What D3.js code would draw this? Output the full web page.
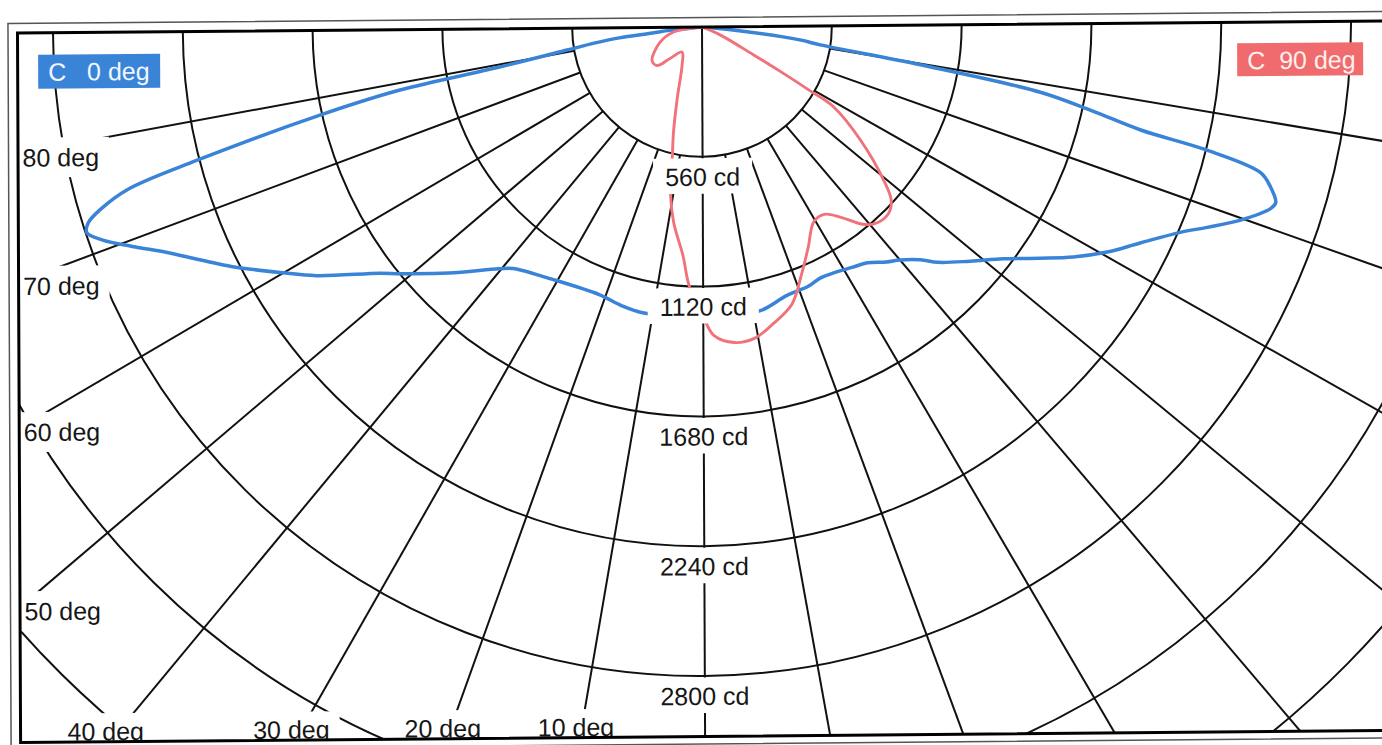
<!DOCTYPE html>
<html>
<head>
<meta charset="utf-8">
<script src="https://cdn.jsdelivr.net/npm/d3@7"></script>
<style>
	html, body { margin: 0; padding: 0; background: #fff; }
	svg { display: block; }
	text { font-family: "Liberation Sans", Arial, sans-serif; }
</style>
</head>
<body>
<div id="chart"></div>
<script>
const WIDTH = 1382;
const HEIGHT = 745;

// grid
const ringValues = [560, 1120, 1680, 2240, 2800, 3360, 3920];
const labelledRings = [560, 1120, 1680, 2240, 2800];
const gridAngles = [-80, -70, -60, -50, -40, -30, -20, -10, 0, 10, 20, 30, 40, 50, 60, 70, 80];
const sideAngleLabels = [80, 70, 60, 50];
const bottomAngleLabels = [40, 30, 20, 10];
const legendNames = ["C   0 deg", "C  90 deg"];

// C0 / C180 plane (negative gamma = C180 half), cd
const c0Gamma = [-90, -84.5, -83.5, -83, -82, -80.8, -79.3, -78.7, -77.5, -75.7, -74.7, -73.6, -72.8, -72,
	-70.9, -69.4, -67.6, -65.6, -63.4, -60.1, -57.6, -53, -51.2, -46.2, -40.4, -38.4, -31.3, -21.3, -16.3, -12,
	0, 5, 11.5, 17.3, 22, 25, 27.7, 31.8, 34.7, 37.8, 40, 42.8, 44.7, 48.5, 52, 55.2, 57.8, 60.5, 63.3, 66.3,
	67.9, 69.8, 71.8, 72.5, 73.8, 74.9, 75.8, 76.3, 77.4, 78.6, 79.7, 80.9, 82, 84, 90];
const c0Cd = [0, 150, 215, 360, 470, 590, 890, 1330, 1690, 2250, 2570, 2710, 2775, 2795,
	2740, 2630, 2500, 2385, 2270, 2095, 1975, 1745, 1680, 1520, 1360, 1320, 1265, 1235, 1250, 1258,
	1255, 1255, 1250, 1216, 1211, 1199, 1205, 1226, 1245, 1292, 1322, 1380, 1441, 1540, 1643, 1770, 1888, 2003, 2111, 2249,
	2348, 2472, 2578, 2592, 2551, 2493, 2248, 1946, 1720, 1488, 957, 516, 426, 134, 0];

// C90 / C270 plane (negative gamma = C270 half), cd
const c90Gamma = [-90, -80.2, -70.3, -56.6, -49.8, -45.9, -38.7, -27.8, -19.4, -15.4, -13.4, -10.8, -8.5, -5, -3.1,
	0, 2, 5.6, 9.3, 12.9, 17.6, 21.6, 25.4, 29.6, 32.8, 35.8, 38.6, 40.8, 44.5, 47.1, 49.4, 54, 58.3, 59, 60, 61.2, 66, 90];
const c90Cd = [0, 127, 193, 259, 255, 193, 138, 186, 326, 471, 560, 739, 852, 990, 1117,
	1250, 1333, 1369, 1363, 1322, 1261, 1153, 1058, 970, 967, 1019, 1095, 1131, 1141, 1110, 1030, 845, 666, 545, 389, 252, 85, 0];

const CX = 702, CY = 27;
const PLOT = {left: 17.5, right: 1420, top: 27, bottom: 736.5};
const RING_PX = 129.8;
const FONT_SIZE = 25;
const GRID_COLOR = "#111";
const BLUE = "#3a84d8";
const RED = "#f0727a";

const rScale = d3.scaleLinear().domain([0, 560]).range([0, RING_PX]);
// gamma 0 points down, positive gamma to the right
const aScale = d3.scaleLinear().domain([-180, 180]).range([2 * Math.PI, 0]);

const svg = d3.select("#chart").append("svg")
	.attr("width", WIDTH)
	.attr("height", HEIGHT);

svg.append("defs").append("clipPath")
	.attr("id", "plot-clip")
	.append("rect")
	.attr("x", PLOT.left)
	.attr("y", PLOT.top)
	.attr("width", PLOT.right - PLOT.left)
	.attr("height", PLOT.bottom - PLOT.top);

// the scan is slightly skewed
const chart = svg.append("g")
	.attr("transform", `translate(${CX},${CY}) skewY(-0.5) skewX(0.25) translate(${-CX},${-CY})`);

const plot = chart.append("g").attr("clip-path", "url(#plot-clip)");
const polar = plot.append("g").attr("transform", `translate(${CX},${CY})`);

// rings
polar.append("g")
	.attr("class", "rings")
	.selectAll("circle")
	.data(ringValues)
	.join("circle")
	.attr("r", d => rScale(d))
	.attr("fill", "none")
	.attr("stroke", GRID_COLOR)
	.attr("stroke-width", 2);

// spokes
const spoke = d3.lineRadial()
	.angle(d => aScale(d[0]))
	.radius(d => d[1]);

polar.append("g")
	.attr("class", "spokes")
	.selectAll("path")
	.data(gridAngles)
	.join("path")
	.attr("d", g => spoke([[g, g === 0 ? 0 : rScale(ringValues[0])], [g, 2000]]))
	.attr("fill", "none")
	.attr("stroke", GRID_COLOR)
	.attr("stroke-width", 2);

// curves
const curve = d3.lineRadial()
	.angle(d => aScale(d[0]))
	.radius(d => rScale(d[1]))
	.curve(d3.curveCatmullRom.alpha(0.5));

polar.append("path")
	.attr("class", "c0")
	.attr("d", curve(d3.zip(c0Gamma, c0Cd)))
	.attr("fill", "none")
	.attr("stroke", BLUE)
	.attr("stroke-width", 3.5)
	.attr("stroke-linejoin", "round");

polar.append("path")
	.attr("class", "c90")
	.attr("d", curve(d3.zip(c90Gamma, c90Cd)))
	.attr("fill", "none")
	.attr("stroke", RED)
	.attr("stroke-width", 2.9)
	.attr("stroke-linejoin", "round");

// label with a white box behind it
function boxedLabel(parent, x, y, anchor, txt, pad) {
	const g = parent.append("g");
	const rect = g.append("rect").attr("fill", "#fff");
	const t = g.append("text")
		.attr("x", x)
		.attr("y", y)
		.attr("text-anchor", anchor)
		.attr("font-size", FONT_SIZE)
		.attr("fill", "#161616")
		.text(txt);
	const b = t.node().getBBox();
	rect.attr("x", b.x - pad.left)
		.attr("y", y - pad.top)
		.attr("width", b.width + pad.left + pad.right)
		.attr("height", pad.top + pad.bottom);
	return g;
}

const labels = plot.append("g").attr("class", "labels");

labelledRings.forEach(v => {
	const ringY = CY + rScale(v);
	boxedLabel(labels, CX, ringY + 29, "middle", `${v} cd`, {left: 12, right: 12, top: 27.5, bottom: 8});
});

sideAngleLabels.forEach(a => {
	const hitY = CY + (CX - PLOT.left) / Math.tan(a * Math.PI / 180);
	boxedLabel(labels, 22, hitY + 13, "start", `${a} deg`, {left: 6, right: 10, top: 29, bottom: 11});
});

bottomAngleLabels.forEach(a => {
	const hitX = CX - (PLOT.bottom - CY) * Math.tan(a * Math.PI / 180);
	boxedLabel(labels, hitX - 4, 735, "middle", `${a} deg`, {left: 4, right: 10, top: 27, bottom: 18});
});

// legend
const legend = chart.append("g").attr("class", "legend");
const legendBoxes = [
	{x: 38, y: 49, w: 122, h: 34, fill: BLUE, ink: "#f1f6ff"},
	{x: 1237, y: 48, w: 126, h: 33, fill: "#f06b6d", ink: "#fff0ee"}
];
legendNames.forEach((name, i) => {
	const b = legendBoxes[i];
	legend.append("rect")
		.attr("x", b.x).attr("y", b.y)
		.attr("width", b.w).attr("height", b.h)
		.attr("fill", b.fill);
	legend.append("text")
		.attr("x", b.x + 10)
		.attr("y", b.y + 26)
		.attr("xml:space", "preserve")
		.style("white-space", "pre")
		.attr("font-size", FONT_SIZE)
		.attr("fill", b.ink)
		.text(name);
});

// frame
chart.append("rect")
	.attr("x", 8).attr("y", 17.5)
	.attr("width", 1500).attr("height", 744 - 17.5)
	.attr("fill", "none")
	.attr("stroke", "#555")
	.attr("stroke-width", 1.5);

chart.append("rect")
	.attr("x", PLOT.left).attr("y", PLOT.top)
	.attr("width", 1500).attr("height", PLOT.bottom - PLOT.top)
	.attr("fill", "none")
	.attr("stroke", "#000")
	.attr("stroke-width", 3);

// labels sit over the frame line at the bottom
labels.raise();
</script>
</body>
</html>
